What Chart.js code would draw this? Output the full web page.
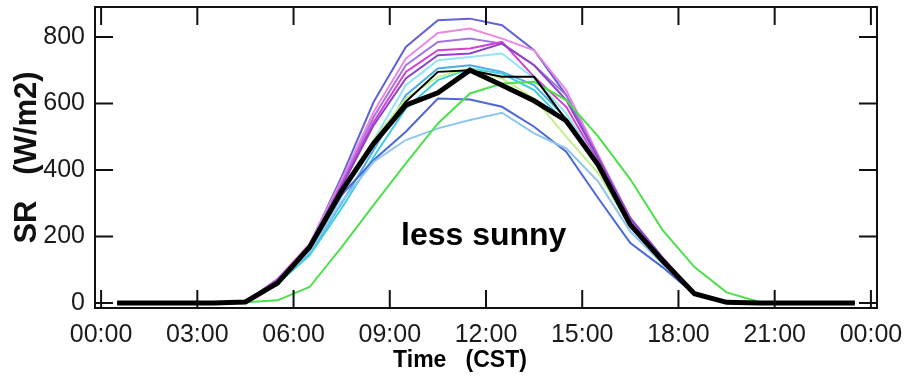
<!DOCTYPE html>
<html>
<head>
<meta charset="utf-8">
<script src="https://cdn.jsdelivr.net/npm/chart.js@4.4.1/dist/chart.umd.min.js"></script>
<style>
  html, body { margin: 0; padding: 0; background: #fff; }
  #caixa { width: 907px; height: 381px; }
</style>
</head>
<body>
<div id="caixa"><canvas id="grafico"></canvas></div>
<script>
// hourly means, plotted at the middle of each hour (CST)
const horas = [0.5, 1.5, 2.5, 3.5, 4.5, 5.5, 6.5, 7.5, 8.5, 9.5, 10.5, 11.5,
               12.5, 13.5, 14.5, 15.5, 16.5, 17.5, 18.5, 19.5, 20.5, 21.5, 22.5, 23.5];
const xTicks = [0, 3, 6, 9, 12, 15, 18, 21, 24];
const xTickLabels = ['00:00', '03:00', '06:00', '09:00', '12:00', '15:00', '18:00', '21:00', '00:00'];
const yTicks = [0, 200, 400, 600, 800];

const srSlate   = [0, 0, 0, 0, 3, 72, 175, 380, 605, 770, 850, 855, 835, 760, 625, 440, 255, 135, 28, 2, 0, 0, 0, 0];
const srPink    = [0, 0, 0, 0, 3, 72, 178, 370, 575, 735, 812, 825, 795, 760, 640, 445, 255, 135, 28, 2, 0, 0, 0, 0];
const srPurple  = [0, 0, 0, 0, 3, 70, 172, 360, 560, 715, 785, 795, 780, 715, 625, 440, 250, 133, 28, 2, 0, 0, 0, 0];
const srMagenta = [0, 0, 0, 0, 3, 70, 172, 355, 545, 695, 760, 765, 785, 680, 590, 425, 245, 130, 28, 2, 0, 0, 0, 0];
const srViolet  = [0, 0, 0, 0, 3, 68, 168, 350, 535, 675, 745, 750, 780, 715, 610, 435, 255, 138, 30, 2, 0, 0, 0, 0];
const srIce     = [0, 0, 0, 0, 3, 62, 152, 320, 490, 655, 730, 740, 750, 675, 570, 420, 240, 128, 27, 2, 0, 0, 0, 0];
const srSky     = [0, 0, 0, 0, 3, 62, 148, 300, 460, 625, 705, 715, 695, 655, 555, 410, 235, 125, 27, 2, 0, 0, 0, 0];
const srLime    = [0, 0, 0, 0, 3, 62, 162, 340, 490, 615, 680, 705, 675, 615, 500, 390, 230, 122, 27, 2, 0, 0, 0, 0];
const srCyan    = [0, 0, 0, 0, 3, 58, 143, 285, 440, 585, 670, 705, 690, 640, 540, 415, 235, 125, 27, 2, 0, 0, 0, 0];
const srGreen   = [0, 0, 0, 0, 2, 8, 48, 168, 295, 420, 540, 630, 660, 665, 610, 500, 372, 220, 108, 32, 4, 0, 0, 0];
const srBlue    = [0, 0, 0, 0, 3, 62, 162, 325, 430, 515, 615, 612, 590, 530, 455, 315, 180, 108, 26, 2, 0, 0, 0, 0];
const srSteel   = [0, 0, 0, 0, 3, 62, 152, 305, 425, 490, 525, 550, 572, 510, 465, 365, 215, 118, 28, 2, 0, 0, 0, 0];
const srMedian  = [0, 0, 0, 0, 3, 60, 168, 337, 480, 605, 695, 700, 680, 680, 550, 415, 235, 128, 28, 2, 0, 0, 0, 0];
const srMean    = [0, 0, 0, 0, 3, 60, 168, 337, 480, 595, 632, 700, 655, 608, 548, 415, 235, 128, 28, 2, 0, 0, 0, 0];

function pontos(serie) {
    return horas.map(function (h, i) { return { x: h, y: serie[i] }; });
}

function linha(serie, cor, largura) {
    return {
        data: pontos(serie),
        borderColor: cor,
        backgroundColor: cor,
        borderWidth: largura,
        pointRadius: 0,
        tension: 0,
        fill: false
    };
}

// frame, inward ticks, x title and the note
const moldura = {
    id: 'moldura',
    afterDraw(chart) {
        const ctx = chart.ctx;
        const a = chart.chartArea;
        const sx = chart.scales.x;
        const sy = chart.scales.y;
        const t = 18;
        ctx.save();
        ctx.strokeStyle = '#111';
        ctx.lineWidth = 2;
        ctx.strokeRect(a.left, a.top, a.right - a.left, a.bottom - a.top);
        ctx.beginPath();
        xTicks.forEach(function (v) {
            const px = sx.getPixelForValue(v);
            ctx.moveTo(px, a.bottom); ctx.lineTo(px, a.bottom - t);
            ctx.moveTo(px, a.top); ctx.lineTo(px, a.top + t);
        });
        yTicks.forEach(function (v) {
            const py = sy.getPixelForValue(v);
            ctx.moveTo(a.left, py); ctx.lineTo(a.left + t, py);
            ctx.moveTo(a.right, py); ctx.lineTo(a.right - t, py);
        });
        ctx.stroke();

        ctx.fillStyle = '#000';
        ctx.font = 'bold 23px "Liberation Sans", Arial, sans-serif';
        ctx.textAlign = 'center';
        ctx.textBaseline = 'middle';
        ctx.fillText('Time   (CST)', 460, 361);

        ctx.font = 'bold 32px "Liberation Sans", Arial, sans-serif';
        ctx.textAlign = 'left';
        ctx.textBaseline = 'alphabetic';
        ctx.fillText('less sunny', 401, 245);
        ctx.restore();
    }
};

const grafico = new Chart(document.getElementById('grafico'), {
    type: 'line',
    data: {
        datasets: [
            linha(srMean, '#000000', 5),
            linha(srMedian, '#000000', 2),
            linha(srGreen, '#4ee04a', 2),
            linha(srLime, '#c6ef8c', 2),
            linha(srSteel, '#8cc6ec', 2),
            linha(srBlue, '#4c68d8', 2),
            linha(srCyan, '#3ccfe2', 2),
            linha(srSky, '#48aee6', 2),
            linha(srIce, '#92e4f2', 2),
            linha(srViolet, '#8e44c8', 2),
            linha(srMagenta, '#d63fd6', 2),
            linha(srPurple, '#a276dc', 2),
            linha(srPink, '#ea86e4', 2),
            linha(srSlate, '#6262d6', 2)
        ]
    },
    options: {
        responsive: true,
        maintainAspectRatio: false,
        animation: false,
        layout: { padding: { top: 7, right: 30, left: 0, bottom: 0 } },
        plugins: {
            legend: { display: false },
            tooltip: { enabled: false }
        },
        scales: {
            x: {
                type: 'linear',
                min: -0.19,
                max: 24.19,
                grid: { display: false, drawTicks: false },
                border: { display: false },
                afterBuildTicks: function (scale) {
                    scale.ticks = xTicks.map(function (v) { return { value: v }; });
                },
                afterFit: function (scale) {
                    scale.height = 73;
                    scale.paddingLeft = 0;
                    scale.paddingRight = 0;
                },
                ticks: {
                    autoSkip: false,
                    maxRotation: 0,
                    padding: 12,
                    color: '#1a1a1a',
                    font: { family: '"Liberation Sans", Arial, sans-serif', size: 25 },
                    callback: function (v, i) { return xTickLabels[i]; }
                }
            },
            y: {
                min: -15,
                max: 890,
                grid: { display: false, drawTicks: false },
                border: { display: false },
                afterBuildTicks: function (scale) {
                    scale.ticks = yTicks.map(function (v) { return { value: v }; });
                },
                afterFit: function (scale) {
                    scale.width = 95;
                    scale.paddingTop = 0;
                    scale.paddingBottom = 0;
                },
                ticks: {
                    padding: 10,
                    color: '#1a1a1a',
                    font: { family: '"Liberation Sans", Arial, sans-serif', size: 25 }
                },
                title: {
                    display: true,
                    text: 'SR   (W/m2)',
                    color: '#111',
                    padding: { top: 9, bottom: 0 },
                    font: { family: '"Liberation Sans", Arial, sans-serif', size: 31, weight: 'bold' }
                }
            }
        }
    },
    plugins: [moldura]
});
</script>
</body>
</html>
